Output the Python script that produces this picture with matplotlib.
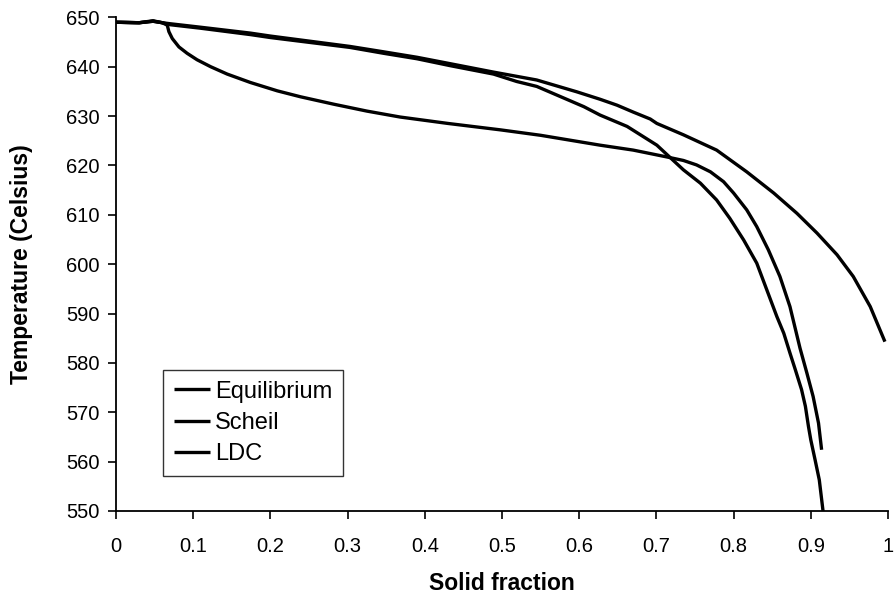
import matplotlib
matplotlib.use("Agg")
import matplotlib.pyplot as plt

plt.rcParams['font.family'] = ['Liberation Sans', 'DejaVu Sans']

# Equilibrium curve (early drop, ends near fs 0.915)
eq_fs = [0.0, 0.03, 0.048, 0.06, 0.0664, 0.0685, 0.0729, 0.0815, 0.0922, 0.105,
         0.1225, 0.144, 0.174, 0.209, 0.239, 0.282, 0.325, 0.368, 0.43, 0.498,
         0.55, 0.627, 0.670, 0.714, 0.735, 0.752, 0.770, 0.787, 0.800, 0.817,
         0.830, 0.845, 0.860, 0.873, 0.886, 0.895, 0.903, 0.910, 0.914]
eq_T = [649.0, 648.9, 649.2, 648.9, 648.4, 647.1, 645.7, 644.0, 642.7, 641.4,
        640.0, 638.5, 636.8, 635.1, 633.9, 632.4, 631.0, 629.8, 628.5, 627.2,
        626.1, 624.1, 623.1, 621.7, 621.0, 620.1, 618.7, 616.7, 614.4, 611.0,
        607.6, 602.9, 597.5, 591.4, 583.0, 577.9, 573.2, 567.8, 562.4]

# Scheil curve (ends at 550 near fs 0.916)
sc_fs = [0.0, 0.03, 0.048, 0.06, 0.07, 0.109, 0.174, 0.2, 0.303, 0.347, 0.39,
         0.433, 0.489, 0.519, 0.545, 0.606, 0.627, 0.662, 0.7006, 0.735, 0.757,
         0.778, 0.795, 0.813, 0.830, 0.843, 0.856, 0.865, 0.873, 0.880, 0.888,
         0.893, 0.897, 0.900, 0.9055, 0.911, 0.916]
sc_T = [649.0, 648.9, 649.2, 648.9, 648.5, 647.8, 646.5, 645.9, 643.9, 642.7, 641.6,
        640.2, 638.5, 637.0, 636.0, 631.9, 630.2, 627.9, 624.1, 619.1, 616.4,
        613.0, 609.3, 604.9, 600.2, 594.8, 589.4, 586.0, 582.0, 578.6, 574.6,
        571.2, 567.1, 564.4, 560.4, 556.3, 549.8]

# LDC curve (reaches fs 1.0)
ldc_fs = [0.0, 0.03, 0.048, 0.06, 0.07, 0.109, 0.174, 0.2, 0.303, 0.347, 0.39,
          0.433, 0.489, 0.545, 0.597, 0.627, 0.649, 0.670, 0.692, 0.7006, 0.735,
          0.778, 0.817, 0.852, 0.882, 0.908, 0.934, 0.955, 0.977, 0.996]
ldc_T = [649.0, 648.9, 649.3, 648.9, 648.7, 648.0, 646.8, 646.2, 644.1, 643.0, 641.9,
         640.6, 638.9, 637.3, 634.9, 633.4, 632.2, 630.8, 629.4, 628.5, 626.2,
         623.1, 618.7, 614.4, 610.3, 606.3, 601.9, 597.5, 591.4, 584.3]

labels = ["Equilibrium", "Scheil", "LDC"]
x_ticks = [0, 0.1, 0.2, 0.3, 0.4, 0.5, 0.6, 0.7, 0.8, 0.9, 1]
x_ticklabels = ["0", "0.1", "0.2", "0.3", "0.4", "0.5", "0.6", "0.7", "0.8", "0.9", "1"]
y_ticks = list(range(550, 651, 10))

fig = plt.figure(figsize=(8.95, 5.99), dpi=100)
ax = fig.add_axes([116 / 895, 1 - 511 / 599, (888 - 116) / 895, (511 - 17.3) / 599])

for fs, T, lab in [(eq_fs, eq_T, labels[0]), (sc_fs, sc_T, labels[1]), (ldc_fs, ldc_T, labels[2])]:
    ax.plot(fs, T, color='black', lw=2.4, label=lab, solid_capstyle='butt',
            solid_joinstyle='round')

ax.set_xlim(0, 1)
ax.set_ylim(550, 650)
ax.set_xticks(x_ticks)
ax.set_xticklabels(x_ticklabels)
ax.set_yticks(y_ticks)
for s in ['top', 'right']:
    ax.spines[s].set_visible(False)
for s in ['left', 'bottom']:
    ax.spines[s].set_linewidth(1.3)
    ax.spines[s].set_color('black')
ax.tick_params(axis='x', direction='out', length=5.5, width=1.2, pad=13, labelsize=14.5)
ax.tick_params(axis='y', direction='out', length=5.5, width=1.2, pad=6.5, labelsize=14.5)

fig.text(501.7 / 895, 1 - 583 / 599, "Solid fraction", ha='center', va='center',
         fontsize=16.5, fontweight='bold')
fig.text(21.7 / 895, 1 - 264 / 599, "Temperature (Celsius)", ha='center', va='center',
         rotation=90, fontsize=16.5, fontweight='bold')

leg = ax.legend(loc='lower left', bbox_to_anchor=((163 - 116) / 772, (511 - 476) / 494),
                borderaxespad=0, fancybox=False, frameon=True, edgecolor='black',
                fontsize=17, handlelength=1.55, handletextpad=0.2, labelspacing=0.4,
                borderpad=0.45)
leg.get_frame().set_linewidth(1.0)
for line in leg.get_lines():
    line.set_linewidth(2.4)

fig.savefig("out.png", dpi=100)
